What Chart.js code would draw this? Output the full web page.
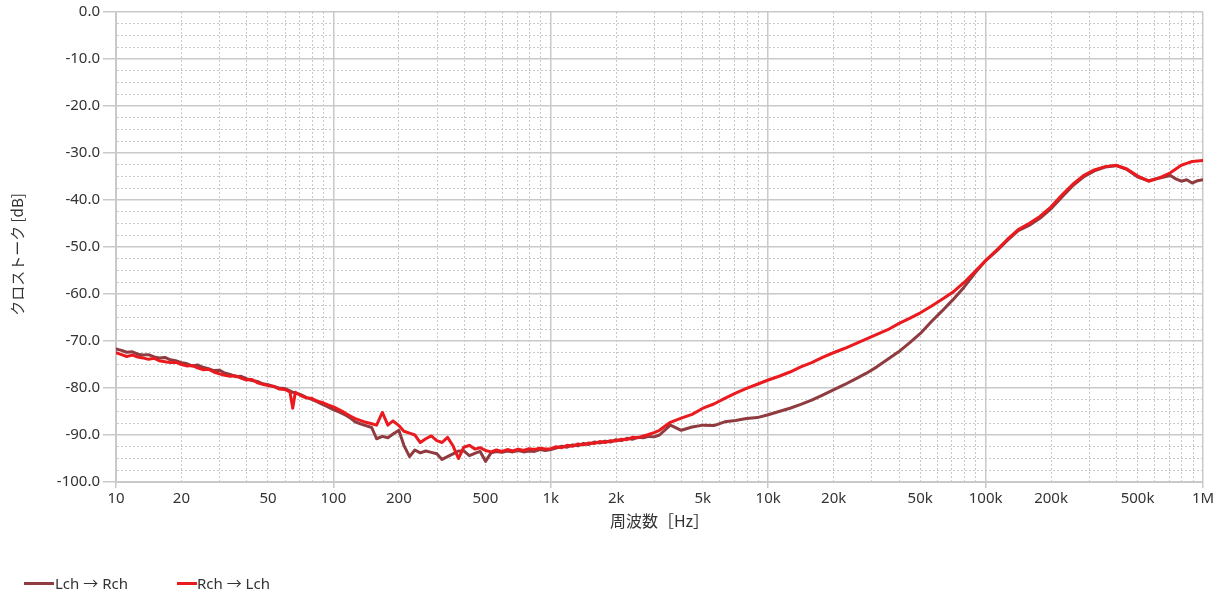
<!DOCTYPE html>
<html lang="ja">
<head>
<meta charset="utf-8">
<script src="https://cdn.jsdelivr.net/npm/chart.js@4.4.1/dist/chart.umd.min.js"></script>
<style>
  html, body { margin: 0; padding: 0; background: #fff; }
  #wrap { position: relative; width: 1221px; height: 594px; overflow: hidden; }
  #crosstalk { position: absolute; left: 0; top: 0; }
  .legend-item { position: absolute; top: 574px; height: 18px; font-family: "Noto Sans", "Noto Sans CJK JP", sans-serif; font-size: 15px; line-height: 18px; color: #333; white-space: nowrap; }
  .legend-swatch { position: absolute; top: 8px; height: 3px; }
  .legend-text { position: absolute; top: 0; }
</style>
</head>
<body>
<div id="wrap">
  <canvas id="crosstalk" width="1221" height="594"></canvas>
  <div class="legend-item" style="left:0;width:160px">
    <span class="legend-swatch" style="left:24px;width:30px;background:#8f3b3f"></span>
    <span class="legend-text" style="left:55px">Lch → Rch</span>
  </div>
  <div class="legend-item" style="left:160px;width:160px">
    <span class="legend-swatch" style="left:17px;width:20px;background:#ea1a1f"></span>
    <span class="legend-text" style="left:37px">Rch → Lch</span>
  </div>
</div>
<script>
// Measurement frequencies [Hz]
const frequencies = [
  10, 10.6, 11.2, 11.9, 12.6, 13.3, 14.1, 15, 15.8, 16.8, 17.8, 18.8, 20, 21.1, 22.4, 23.7, 25.1, 26.6, 28.2, 29.9,
  31.6, 33.5, 35.5, 37.6, 39.8, 42.2, 44.7, 47.3, 50.1, 53.1, 56.2, 59.6, 63.1, 65, 66.8, 70.8, 75, 79.4, 84.1, 89.1, 94.4,
  100, 106, 112, 119, 126, 133, 141, 150, 158, 168, 178, 188, 200, 211, 224, 237, 251, 266, 282, 299,
  316, 335, 355, 376, 398, 422, 447, 473, 501, 531, 562, 596, 631, 668, 708, 750, 794, 841, 891, 944,
  1000, 1059, 1122, 1189, 1259, 1334, 1413, 1496, 1585, 1679, 1778, 1884, 1995, 2113, 2239, 2371, 2512, 2661, 2818, 2985,
  3162, 3548, 3981, 4467, 5012, 5623, 6310, 7079, 7943, 8913, 10000, 11220, 12590, 14130, 15850, 17780, 19950, 22390, 25120, 28180,
  31620, 35480, 39810, 44670, 50120, 56230, 63100, 70790, 79430, 89130,
  100000, 112200, 125900, 141300, 158500, 177800, 199500, 223900, 251200, 281800, 316200, 354800, 398100, 446700, 501200, 562300,
  631000, 707900, 749900, 794300, 841400, 891300, 944100, 1000000
];

// Crosstalk, L channel into R channel [dB]
const lchToRch = [
  -71.7, -72.0, -72.4, -72.3, -72.8, -73.0, -72.9, -73.4, -73.6, -73.5, -74.0, -74.2, -74.6, -74.8, -75.3, -75.1, -75.6, -75.9, -76.3, -76.2,
  -76.8, -77.1, -77.6, -77.5, -78.0, -78.4, -78.6, -79.1, -79.3, -79.7, -80.0, -80.1, -80.6, -80.9, -81.1, -81.4, -82.0, -82.4, -82.9, -83.5, -84.0,
  -84.6, -85.1, -85.6, -86.3, -87.2, -87.6, -88.0, -88.4, -90.8, -90.3, -90.6, -89.8, -89.0, -92.2, -94.6, -93.2, -93.8, -93.4, -93.7, -94.0,
  -95.2, -94.6, -94.0, -93.4, -93.4, -94.4, -93.9, -93.5, -95.6, -93.8, -93.5, -93.7, -93.4, -93.6, -93.3, -93.6, -93.4, -93.5, -93.1, -93.3,
  -93.1, -92.8, -92.4, -92.6, -92.1, -92.3, -91.8, -92.0, -91.5, -91.7, -91.3, -91.5, -91.0, -91.2, -90.7, -90.9, -90.5, -90.6, -90.3, -90.4,
  -90.0, -87.9, -89.0, -88.3, -87.9, -88.0, -87.2, -86.9, -86.5, -86.3, -85.7, -85.0, -84.3, -83.5, -82.6, -81.5, -80.4, -79.3, -78.1, -76.9,
  -75.5, -73.9, -72.3, -70.4, -68.4, -65.9, -63.6, -61.2, -58.6, -55.6,
  -52.9, -50.9, -48.6, -46.5, -45.4, -43.9, -41.9, -39.4, -37.0, -35.1, -33.8, -33.0, -32.7, -33.5, -35.1, -35.9,
  -35.3, -34.8, -35.5, -36.0, -35.7, -36.4, -35.9, -35.7
];

// Crosstalk, R channel into L channel [dB]
const rchToLch = [
  -72.5, -72.9, -73.3, -73.0, -73.4, -73.6, -73.9, -73.7, -74.2, -74.4, -74.6, -74.5, -75.0, -75.3, -75.2, -75.7, -76.1, -76.0, -76.6, -77.0,
  -77.3, -77.5, -77.4, -77.9, -78.3, -78.2, -78.9, -79.2, -79.5, -79.6, -80.2, -80.3, -80.8, -84.3, -80.9, -81.6, -82.1, -82.2, -82.8, -83.1, -83.6,
  -84.0, -84.6, -85.2, -85.9, -86.5, -86.9, -87.3, -87.6, -87.9, -85.2, -87.9, -87.0, -88.0, -89.2, -89.6, -90.0, -91.6, -90.8, -90.2, -91.2,
  -91.6, -90.5, -92.3, -95.0, -92.6, -92.2, -93.0, -92.7, -93.3, -93.6, -93.2, -93.5, -93.1, -93.4, -93.0, -93.3, -92.9, -93.1, -92.8, -93.0,
  -92.9, -92.5, -92.7, -92.2, -92.4, -91.9, -92.1, -91.7, -91.8, -91.4, -91.6, -91.2, -91.3, -90.9, -91.0, -90.5, -90.6, -90.2, -89.9, -89.5,
  -89.0, -87.3, -86.4, -85.6, -84.3, -83.4, -82.2, -81.1, -80.1, -79.2, -78.3, -77.5, -76.6, -75.5, -74.6, -73.5, -72.5, -71.6, -70.6, -69.6,
  -68.6, -67.6, -66.3, -65.2, -64.0, -62.6, -61.1, -59.6, -57.6, -55.3,
  -52.9, -50.7, -48.4, -46.3, -45.0, -43.5, -41.5, -39.0, -36.7, -34.8, -33.6, -32.9, -32.6, -33.4, -34.9, -36.0,
  -35.3, -34.2, -33.4, -32.6, -32.2, -31.8, -31.7, -31.6
];

// Axis ticks
const xLabelValues = [10, 20, 50, 100, 200, 500, 1000, 2000, 5000, 10000, 20000, 50000, 100000, 200000, 500000, 1000000];
const xLabelTexts  = ['10', '20', '50', '100', '200', '500', '1k', '2k', '5k', '10k', '20k', '50k', '100k', '200k', '500k', '1M'];
const yLabelValues = [0, -10, -20, -30, -40, -50, -60, -70, -80, -90, -100];
const yLabelTexts  = ['0.0', '-10.0', '-20.0', '-30.0', '-40.0', '-50.0', '-60.0', '-70.0', '-80.0', '-90.0', '-100.0'];

const RED = '#ea1a1f';
const BROWN = '#8f3b3f';
const GRID = '#c9c9c9';
const TEXT = '#333333';
const FONT = '"Noto Sans", "Noto Sans CJK JP", sans-serif';
const FONT_JP = '"Noto Sans CJK JP", "Noto Sans", sans-serif';

// Grid positions: 1..9 of every decade on x, every 2.5 dB on y
const xGridValues = [];
for (let d = 10; d < 1000000; d *= 10) {
  for (let m = 1; m <= 9; m++) xGridValues.push(m * d);
}
xGridValues.push(1000000);
const yGridValues = [];
for (let v = -100; v <= 0; v += 2.5) yGridValues.push(v);

const isDecade = v => Math.abs(Math.log10(v) - Math.round(Math.log10(v))) < 1e-9;
const isTen = v => Math.abs(v % 10) < 1e-9;

const toPoints = values => frequencies.map((f, i) => ({ x: f, y: values[i] }));

new Chart(document.getElementById('crosstalk'), {
  type: 'line',
  data: {
    datasets: [
      { label: 'Rch → Lch', data: toPoints(rchToLch), borderColor: RED, backgroundColor: RED,
        borderWidth: 3, pointRadius: 0, tension: 0, borderJoinStyle: 'round', borderCapStyle: 'round' },
      { label: 'Lch → Rch', data: toPoints(lchToRch), borderColor: BROWN, backgroundColor: BROWN,
        borderWidth: 3, pointRadius: 0, tension: 0, borderJoinStyle: 'round', borderCapStyle: 'round' }
    ]
  },
  options: {
    responsive: false,
    animation: false,
    layout: { padding: { left: 0, right: 18, top: 12, bottom: 50 } },
    plugins: { legend: { display: false }, tooltip: { enabled: false } },
    scales: {
      x: {
        type: 'logarithmic',
        min: 10,
        max: 1000000,
        afterBuildTicks: s => { s.ticks = xGridValues.map(v => ({ value: v })); },
        afterFit: s => { s.height = 62; },
        ticks: {
          autoSkip: false, maxRotation: 0, minRotation: 0, padding: 2,
          color: TEXT, font: { family: FONT, size: 15 },
          callback: v => { const i = xLabelValues.indexOf(v); return i >= 0 ? xLabelTexts[i] : ''; }
        },
        grid: {
          color: GRID,
          lineWidth: c => (c.tick && isDecade(c.tick.value)) ? 1.5 : 1,
          tickLength: 6,
          tickColor: c => (c.tick && isDecade(c.tick.value)) ? GRID : 'rgba(0,0,0,0)'
        },
        border: { display: true, color: GRID, width: 2,
          dash: c => (c.tick && !isDecade(c.tick.value)) ? [2, 2] : [] },
        title: { display: true, text: '周波数［Hz］', color: TEXT, font: { family: FONT_JP, size: 16 },
          padding: { top: 0, bottom: 13 } }
      },
      y: {
        min: -100,
        max: 0,
        afterBuildTicks: s => { s.ticks = yGridValues.map(v => ({ value: v })); },
        afterFit: s => { s.width = 116; },
        ticks: {
          autoSkip: false, padding: 3,
          color: TEXT, font: { family: FONT, size: 15 },
          callback: v => { const i = yLabelValues.indexOf(v); return i >= 0 ? yLabelTexts[i] : ''; }
        },
        grid: {
          color: GRID,
          lineWidth: c => (c.tick && isTen(c.tick.value)) ? 1.5 : 1,
          tickLength: 13,
          tickColor: c => (c.tick && isTen(c.tick.value)) ? GRID : 'rgba(0,0,0,0)'
        },
        border: { display: true, color: GRID, width: 2,
          dash: c => (c.tick && !isTen(c.tick.value)) ? [2, 2] : [] },
        title: { display: true, text: 'クロストーク [dB]　', color: TEXT, font: { family: FONT_JP, size: 15 },
          padding: { top: 8, bottom: 0 } }
      }
    }
  }
});
</script>
</body>
</html>
